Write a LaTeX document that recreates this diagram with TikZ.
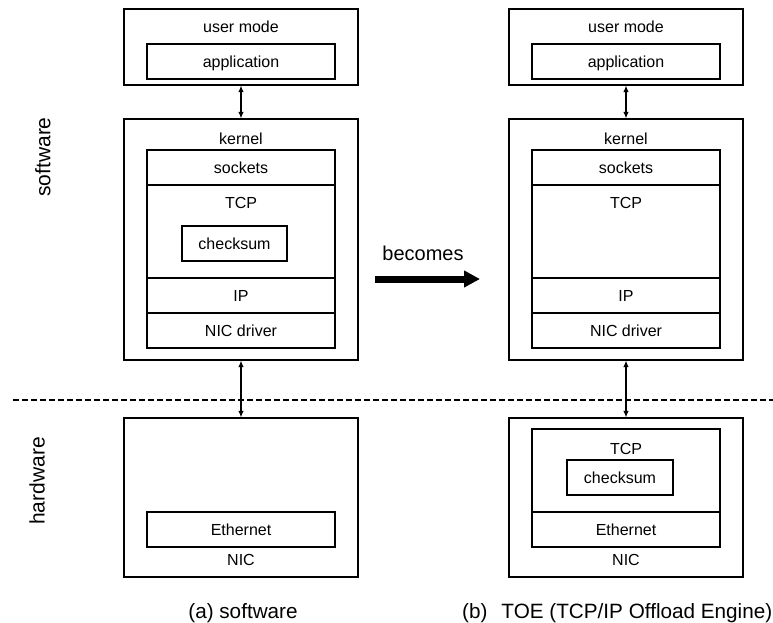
\documentclass[tikz,border=0pt]{standalone}
\usepackage{fontspec}
\setmainfont{Liberation Sans}
\usetikzlibrary{arrows.meta}
\begin{document}
\begin{tikzpicture}[x=1pt,y=-1pt,
  txt/.style={inner sep=0pt, font=\fontsize{16}{19}\selectfont, text height=13pt, text depth=1pt},
  box/.style={txt, draw, line width=1.2pt},
  link/.style={{Latex[length=6.5pt,width=5.5pt]}-{Latex[length=6.5pt,width=5.5pt]}, line width=1.1pt},
  captext/.style={inner sep=0pt, font=\fontsize{20.7}{24}\selectfont, text height=16.5pt, text depth=0.5pt},
  sidetext/.style={inner sep=0pt, font=\fontsize{21}{25}\selectfont, rotate=90}]
\useasboundingbox (0,0) rectangle (773,623);

% ---------- left column (a) ----------
\node[box, minimum width=234pt, minimum height=76pt] (um1) at (241,47) {};
\node[txt] (uml1) at (241,27) {user mode};
\node[box, minimum width=188pt, minimum height=35pt] (app1) at (241,61.5) {application};

\node[box, minimum width=234pt, minimum height=241pt] (k1) at (241,239.5) {};
\node[txt] (kl1) at (241,138) {kernel};
\node[box, minimum width=188pt, minimum height=35pt] (sock1) at (241,167.5) {sockets};
\node[box, minimum width=188pt, minimum height=93pt] (tcp1) at (241,231.5) {};
\node[txt] (tcpl1) at (241,202) {TCP};
\node[box, minimum width=105pt, minimum height=35pt] (cs1) at (234.5,243.5) {checksum};
\node[box, minimum width=188pt, minimum height=35pt] (ip1) at (241,295.5) {IP};
\node[box, minimum width=188pt, minimum height=35pt] (nd1) at (241,330.5) {NIC driver};

\node[box, minimum width=234pt, minimum height=159pt] (nic1) at (241,497.5) {};
\node[box, minimum width=188pt, minimum height=35pt] (eth1) at (241,529.5) {Ethernet};
\node[txt] (nicl1) at (241,559) {NIC};

\draw[link] (um1.south) -- (k1.north);
\draw[link] (k1.south) -- (nic1.north);

\node[captext] (capa) at (243,610) {(a) software};

% ---------- right column (b) ----------
\node[box, minimum width=234pt, minimum height=76pt] (um2) at (626,47) {};
\node[txt] (uml2) at (626,27) {user mode};
\node[box, minimum width=188pt, minimum height=35pt] (app2) at (626,61.5) {application};

\node[box, minimum width=234pt, minimum height=241pt] (k2) at (626,239.5) {};
\node[txt] (kl2) at (626,138) {kernel};
\node[box, minimum width=188pt, minimum height=35pt] (sock2) at (626,167.5) {sockets};
\node[box, minimum width=188pt, minimum height=93pt] (tcp2) at (626,231.5) {};
\node[txt] (tcpl2) at (626,202) {TCP};
\node[box, minimum width=188pt, minimum height=35pt] (ip2) at (626,295.5) {IP};
\node[box, minimum width=188pt, minimum height=35pt] (nd2) at (626,330.5) {NIC driver};

\node[box, minimum width=234pt, minimum height=159pt] (nic2) at (626,497.5) {};
\node[box, minimum width=188pt, minimum height=83pt] (htcp2) at (626,470.5) {};
\node[txt] (htcpl2) at (626,448) {TCP};
\node[box, minimum width=106pt, minimum height=35pt] (cs2) at (620,477.5) {checksum};
\node[box, minimum width=188pt, minimum height=35pt] (eth2) at (626,529.5) {Ethernet};
\node[txt] (nicl2) at (626,559) {NIC};

\draw[link] (um2.south) -- (k2.north);
\draw[link] (k2.south) -- (nic2.north);

\node[captext, anchor=west] (capb) at (462,610) {(b)\hspace{14pt}TOE (TCP/IP Offload Engine)};

% ---------- middle ----------
\node[inner sep=0pt, font=\fontsize{20}{24}\selectfont, text height=15.5pt, text depth=1.2pt] (bec) at (423,253) {becomes};
\coordinate (ba) at (375,279);
\coordinate (bb) at (480,279);
\draw[line width=7pt, -{Triangle[length=16pt,width=16pt]}] (ba) -- (bb);

% ---------- divider and side labels ----------
\coordinate (d1) at (13,400);
\coordinate (d2) at (773,400);
\draw[line width=1.2pt, dash pattern=on 6pt off 3pt] (d1) -- (d2);
\node[sidetext] (sw) at (43,157) {software};
\node[sidetext] (hw) at (37,481) {hardware};
\end{tikzpicture}
\end{document}
